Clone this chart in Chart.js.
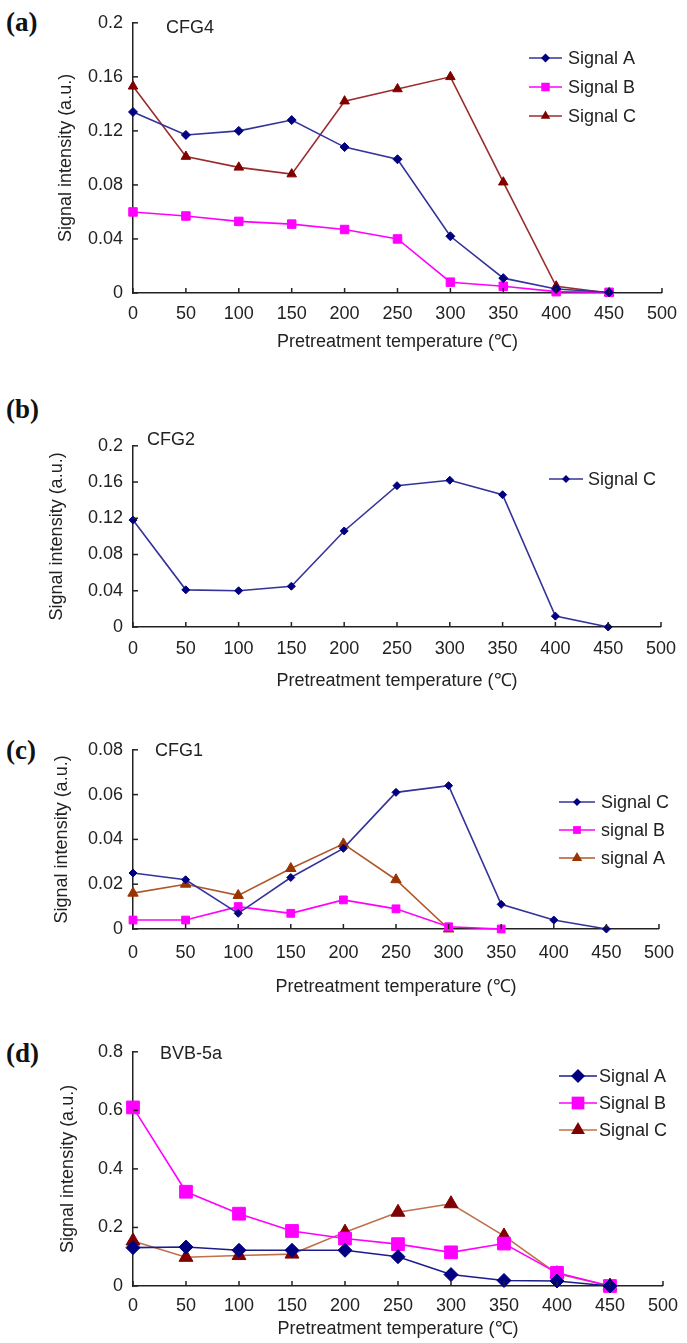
<!DOCTYPE html>
<html>
<head>
<meta charset="utf-8">
<script src="https://cdn.jsdelivr.net/npm/chart.js@4.4.0/dist/chart.umd.min.js"></script>
<style>
    body { margin: 0; background: #fff; width: 687px; height: 1343px; position: relative; overflow: hidden; font-family: "Liberation Sans", Arial, sans-serif; }
    .wrap { position: absolute; left: 0; width: 687px; }
    .tag { position: absolute; left: 6px; font: bold 27px "Liberation Serif", "Times New Roman", serif; color: #111; line-height: 1; }
    .name { position: absolute; font-size: 18px; color: #222; line-height: 1; }
</style>
</head>
<body>

<div class="tag" style="top:9px">(a)</div>
<div class="tag" style="top:396px">(b)</div>
<div class="tag" style="top:737px">(c)</div>
<div class="tag" style="top:1040px">(d)</div>

<div class="wrap" style="top:2px"><canvas id="chartA" width="687" height="351"></canvas></div>
<div class="wrap" style="top:425px"><canvas id="chartB" width="687" height="267"></canvas></div>
<div class="wrap" style="top:729px"><canvas id="chartC" width="687" height="269"></canvas></div>
<div class="wrap" style="top:1031px"><canvas id="chartD" width="687" height="309"></canvas></div>

<div class="name" style="left:166px;top:18px">CFG4</div>
<div class="name" style="left:147px;top:430px">CFG2</div>
<div class="name" style="left:155px;top:741px">CFG1</div>
<div class="name" style="left:160px;top:1044px">BVB-5a</div>

<script>
// x values (pretreatment temperature, deg C)
const temps = [0, 50, 100, 150, 200, 250, 300, 350, 400, 450];
const xTicks = [0, 50, 100, 150, 200, 250, 300, 350, 400, 450, 500];

// (a) CFG4
const cfg4A = [0.134, 0.117, 0.120, 0.128, 0.108, 0.099, 0.042, 0.011, 0.003, 0.0005];
const cfg4B = [0.060, 0.057, 0.053, 0.051, 0.047, 0.040, 0.008, 0.005, 0.001, 0.0005];
const cfg4C = [0.153, 0.101, 0.093, 0.088, 0.142, 0.151, 0.160, 0.082, 0.005, 0.0];
const yTicksA = [0, 0.04, 0.08, 0.12, 0.16, 0.2];

// (b) CFG2
const cfg2C = [0.118, 0.041, 0.040, 0.045, 0.106, 0.156, 0.162, 0.146, 0.012, 0.0];
const yTicksB = [0, 0.04, 0.08, 0.12, 0.16, 0.2];

// (c) CFG1
const cfg1C = [0.025, 0.022, 0.007, 0.023, 0.036, 0.061, 0.064, 0.011, 0.004, 0.0];
const cfg1B = [0.004, 0.004, 0.010, 0.007, 0.013, 0.009, 0.001, 0.0, null, null];
const cfg1A = [0.016, 0.020, 0.015, 0.027, 0.038, 0.022, 0.0, null, null, null];
const yTicksC = [0, 0.02, 0.04, 0.06, 0.08];

// (d) BVB-5a
const bvbA = [0.131, 0.133, 0.122, 0.122, 0.122, 0.100, 0.039, 0.019, 0.017, 0.0];
const bvbB = [0.610, 0.322, 0.247, 0.188, 0.162, 0.143, 0.115, 0.145, 0.045, 0.0];
const bvbC = [0.154, 0.098, 0.104, 0.109, 0.184, 0.252, 0.281, 0.171, 0.042, 0.0];
const yTicksD = [0, 0.2, 0.4, 0.6, 0.8];

const FONT = '"Liberation Sans", Arial, sans-serif';

function pts(vals) {
    return temps.map(function(t, i) { return { x: t, y: vals[i] }; });
}

function series(label, vals, line, marker, style, r) {
    return {
        label: label, data: pts(vals),
        borderColor: line, borderWidth: 1.6,
        pointStyle: style, pointRadius: r, pointHoverRadius: r,
        pointBackgroundColor: marker, pointBorderColor: marker, pointBorderWidth: 1,
        tension: 0, clip: false, spanGaps: false
    };
}

function marker(ctx, style, x, y, r) {
    ctx.beginPath();
    if (style === 'rectRot') {
        ctx.moveTo(x, y - r); ctx.lineTo(x + r, y); ctx.lineTo(x, y + r); ctx.lineTo(x - r, y);
    } else if (style === 'rect') {
        const s = r * Math.SQRT1_2;
        ctx.rect(x - s, y - s, 2 * s, 2 * s);
    } else {
        ctx.moveTo(x, y - r); ctx.lineTo(x + r * 0.866, y + r * 0.5); ctx.lineTo(x - r * 0.866, y + r * 0.5);
    }
    ctx.closePath();
    ctx.fill();
}

// inward tick marks + a hand placed legend inside the plot
const decor = {
    id: 'decor',
    afterDatasetsDraw(chart, args, opts) {
        const ctx = chart.ctx, xs = chart.scales.x, ys = chart.scales.y;
        ctx.save();
        ctx.strokeStyle = '#222';
        ctx.lineWidth = 1.5;
        xs.ticks.forEach(function(t) {
            const px = xs.getPixelForValue(t.value);
            ctx.beginPath(); ctx.moveTo(px, ys.bottom); ctx.lineTo(px, ys.bottom - 5); ctx.stroke();
        });
        ys.ticks.forEach(function(t) {
            const py = ys.getPixelForValue(t.value);
            ctx.beginPath(); ctx.moveTo(xs.left, py); ctx.lineTo(xs.left + 5, py); ctx.stroke();
        });
        ctx.font = '18px ' + FONT;
        ctx.textBaseline = 'middle';
        chart.data.datasets.forEach(function(ds, i) {
            const ly = opts.y + i * opts.gap;
            ctx.strokeStyle = ds.borderColor;
            ctx.lineWidth = ds.borderWidth;
            ctx.beginPath(); ctx.moveTo(opts.x1, ly); ctx.lineTo(opts.x2, ly); ctx.stroke();
            ctx.fillStyle = ds.pointBackgroundColor;
            marker(ctx, ds.pointStyle, (opts.x1 + opts.x2) / 2, ly, ds.pointRadius);
            ctx.fillStyle = '#222';
            ctx.fillText(ds.label, opts.tx, ly + 1);
        });
        ctx.restore();
    }
};

function makePanel(id, datasets, yTicks, p) {
    const step = yTicks[1] - yTicks[0];
    return new Chart(document.getElementById(id), {
        type: 'line',
        data: { datasets: datasets },
        plugins: [decor],
        options: {
            responsive: false,
            animation: false,
            layout: { padding: { top: 14, right: 17, left: 0, bottom: 0 } },
            plugins: {
                legend: { display: false },
                tooltip: { enabled: false },
                decor: p.legend
            },
            scales: {
                x: {
                    type: 'linear', min: xTicks[0], max: xTicks[xTicks.length - 1],
                    afterFit: function(s) { s.height = p.xH; },
                    grid: { display: false, drawTicks: false },
                    border: { display: true, color: '#222', width: 1.5 },
                    ticks: { stepSize: 50, padding: p.xPad, color: '#222', font: { size: 18, family: FONT } },
                    title: { display: true, text: 'Pretreatment temperature (℃)', color: '#222', padding: { top: 0, bottom: 0 }, font: { size: 18, family: FONT } }
                },
                y: {
                    min: yTicks[0], max: yTicks[yTicks.length - 1],
                    afterFit: function(s) { s.width = 133; },
                    grid: { display: false, drawTicks: false },
                    border: { display: true, color: '#222', width: 1.5 },
                    ticks: {
                        stepSize: step, padding: 10, color: '#222', font: { size: 18, family: FONT },
                        callback: function(v) { return String(+v.toFixed(3)); }
                    },
                    title: { display: true, text: 'Signal intensity (a.u.)', color: '#222', padding: { top: p.yTitle - 10.8, bottom: 0 }, font: { size: 18, family: FONT } }
                }
            }
        }
    });
}

const navyLine = '#33339a', navy = '#000080', mag = '#ff00ff';

// legend coordinates are relative to each canvas top
makePanel('chartA', [
    series('Signal A', cfg4A, navyLine, navy, 'rectRot', 4.5),
    series('Signal B', cfg4B, mag, mag, 'rect', 6),
    series('Signal C', cfg4C, '#9b2c2c', '#800000', 'triangle', 5.5)
], yTicksA, { xH: 60, xPad: 10, yTitle: 66, legend: { x1: 529, x2: 562, tx: 568, y: 56, gap: 29 } });

makePanel('chartB', [
    series('Signal C', cfg2C, navyLine, navy, 'rectRot', 4)
], yTicksB, { xH: 65, xPad: 11, yTitle: 57, legend: { x1: 549, x2: 583, tx: 588, y: 54, gap: 28 } });

makePanel('chartC', [
    series('Signal C', cfg1C, navyLine, navy, 'rectRot', 4),
    series('signal B', cfg1B, mag, mag, 'rect', 5.5),
    series('signal A', cfg1A, '#b0562a', '#993300', 'triangle', 6)
], yTicksC, { xH: 69, xPad: 13, yTitle: 62, legend: { x1: 559, x2: 595, tx: 601, y: 73, gap: 28 } });

makePanel('chartD', [
    series('Signal A', bvbA, '#1c1c8c', navy, 'rectRot', 7),
    series('Signal B', bvbB, mag, mag, 'rect', 9),
    series('Signal C', bvbC, '#c0704a', '#800000', 'triangle', 8)
], yTicksD, { xH: 54, xPad: 9, yTitle: 68, legend: { x1: 559, x2: 597, tx: 599, y: 45, gap: 27 } });
</script>
</body>
</html>
